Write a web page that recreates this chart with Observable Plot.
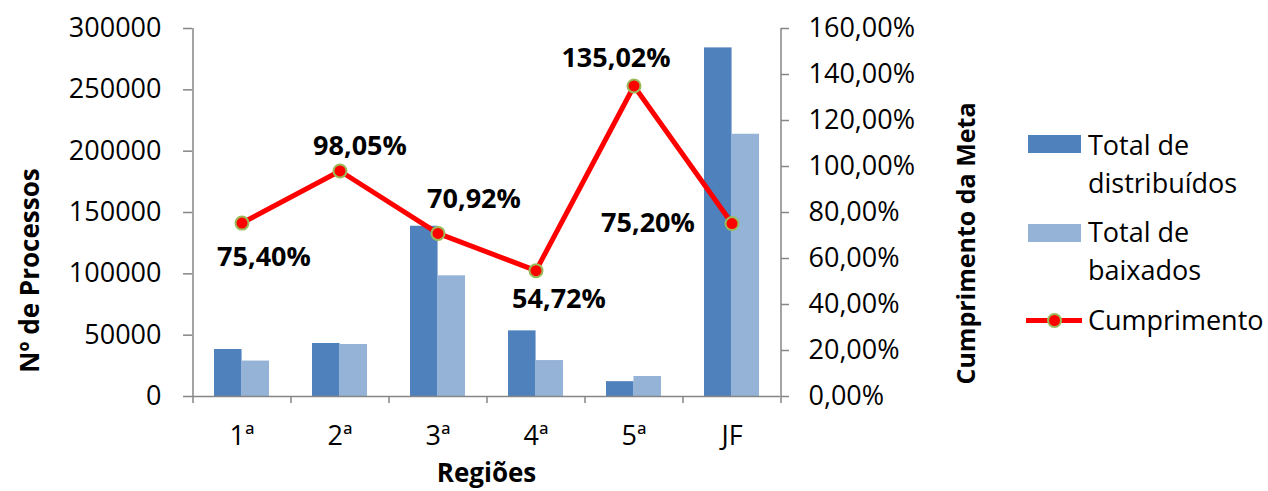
<!DOCTYPE html>
<html>
<head>
<meta charset="utf-8">
<script src="https://cdn.jsdelivr.net/npm/d3@7"></script>
<script src="https://cdn.jsdelivr.net/npm/@observablehq/plot@0.6"></script>
<style>
  body { margin: 0; background: white; font-family: 'Open Sans', sans-serif; }
  #wrap { position: relative; width: 1268px; height: 491px; overflow: hidden; }
  .leg { position: absolute; font-size: 27px; line-height: 38px; color: #000; white-space: nowrap; }
  .sw { position: absolute; width: 53px; height: 18px; }
</style>
</head>
<body>
<div id="wrap"></div>
<script>
const categories = ["1ª", "2ª", "3ª", "4ª", "5ª", "JF"];
const distribuidos = [38300, 43200, 138800, 53500, 12100, 284200];
const baixados = [28900, 42400, 98400, 29300, 16300, 213800];
const cumprimento = [75.40, 98.05, 70.92, 54.72, 135.02, 75.20];
const leftTicks = [0, 50000, 100000, 150000, 200000, 250000, 300000];
const rightTicks = [0, 20, 40, 60, 80, 100, 120, 140, 160];
const LMAX = 300000, RMAX = 160;

const data = categories.map((c, i) => ({cat: c, dist: distribuidos[i], baix: baixados[i], pct: cumprimento[i]}));
const toLeft = p => p / RMAX * LMAX;
const fmtPct = p => p.toFixed(2).replace(".", ",") + "%";

// label offsets (styling only)
const labelOffsets = [[22, 34], [20, -25], [36, -34], [23, 29], [-18, -28], [-84, 0]];

const axisColor = "#868686";
const FS = 27;
const HALF_STEP = 49;
const HALF_BAR = 27.44;

const chart = Plot.plot({
  width: 1268,
  height: 491,
  marginLeft: 192,
  marginRight: 488,
  marginTop: 28,
  marginBottom: 95,
  style: {fontFamily: "'Open Sans', sans-serif", fontSize: FS + "px", background: "white", overflow: "visible"},
  x: {domain: categories, paddingInner: 0.44, paddingOuter: 0.22, label: null},
  y: {domain: [0, LMAX], label: null},
  marks: [
    Plot.barY(data, {x: "cat", y: "dist", fill: "#4F81BD", insetRight: HALF_BAR}),
    Plot.barY(data, {x: "cat", y: "baix", fill: "#95B3D7", insetLeft: HALF_BAR}),
    Plot.ruleY([0], {stroke: axisColor, strokeWidth: 1.5}),
    Plot.ruleX([categories[0]], {dx: -HALF_STEP, stroke: axisColor, strokeWidth: 1.5}),
    Plot.ruleX([categories[categories.length - 1]], {dx: HALF_STEP, stroke: axisColor, strokeWidth: 1.5}),
    Plot.axisY(leftTicks, {anchor: "left", tickSize: 9, tickPadding: 22, stroke: axisColor, strokeWidth: 1.5, fontSize: FS, tickFormat: d => String(d), label: null}),
    Plot.axisY(rightTicks.map(toLeft), {anchor: "right", tickSize: 8, tickPadding: 20, stroke: axisColor, strokeWidth: 1.5, fontSize: FS, tickFormat: d => fmtPct(Math.round(d / LMAX * RMAX)), label: null}),
    Plot.axisX({tickSize: 7, dx: -HALF_STEP, stroke: axisColor, strokeWidth: 1.5, tickFormat: () => "", label: null}),
    Plot.axisX([categories[categories.length - 1]], {tickSize: 7, dx: HALF_STEP, stroke: axisColor, strokeWidth: 1.5, tickFormat: () => "", label: null}),
    Plot.axisX({tickSize: 0, tickPadding: 29, fontSize: FS, label: null}),
    Plot.line(data, {x: "cat", y: d => toLeft(d.pct), stroke: "#FF0000", strokeWidth: 5}),
    Plot.dot(data, {x: "cat", y: d => toLeft(d.pct), r: 6.5, fill: "#FF0000", stroke: "#9BBB59", strokeWidth: 2}),
    ...data.map((d, i) => Plot.text([d], {x: "cat", y: e => toLeft(e.pct), text: e => fmtPct(e.pct), dx: labelOffsets[i][0], dy: labelOffsets[i][1], fontSize: FS, fontWeight: "bold", fill: "black"})),
    Plot.text(["Regiões"], {frameAnchor: "bottom", dy: 77, lineAnchor: "middle", textAnchor: "middle", text: d => d, fontSize: 26, fontWeight: "bold"}),
    Plot.text(["Nº de Processos"], {frameAnchor: "left", dx: -162, dy: 58, rotate: -90, textAnchor: "middle", lineAnchor: "middle", text: d => d, fontSize: 26, fontWeight: "bold"}),
    Plot.text(["Cumprimento da Meta"], {frameAnchor: "right", dx: 186, dy: 31, rotate: -90, textAnchor: "middle", lineAnchor: "middle", text: d => d, fontSize: 25, fontWeight: "bold"})
  ]
});

const wrap = document.getElementById("wrap");
wrap.appendChild(chart);

function addDiv(cls, css, html) {
  const el = document.createElement("div");
  el.className = cls;
  el.style.cssText = css;
  if (html) el.innerHTML = html;
  wrap.appendChild(el);
}
addDiv("sw", "left:1028px;top:135px;background:#4F81BD;");
addDiv("leg", "left:1088px;top:125.5px;", "Total de<br>distribuídos");
addDiv("sw", "left:1028px;top:224px;background:#95B3D7;");
addDiv("leg", "left:1088px;top:212.5px;", "Total de<br>baixados");
addDiv("", "position:absolute;left:1026px;top:317.5px;width:56px;height:5px;background:#FF0000;");
addDiv("", "position:absolute;left:1047px;top:313px;width:11px;height:11px;border-radius:50%;background:#FF0000;border:2px solid #9BBB59;");
addDiv("leg", "left:1088px;top:300.5px;", "Cumprimento");
</script>
</body>
</html>
